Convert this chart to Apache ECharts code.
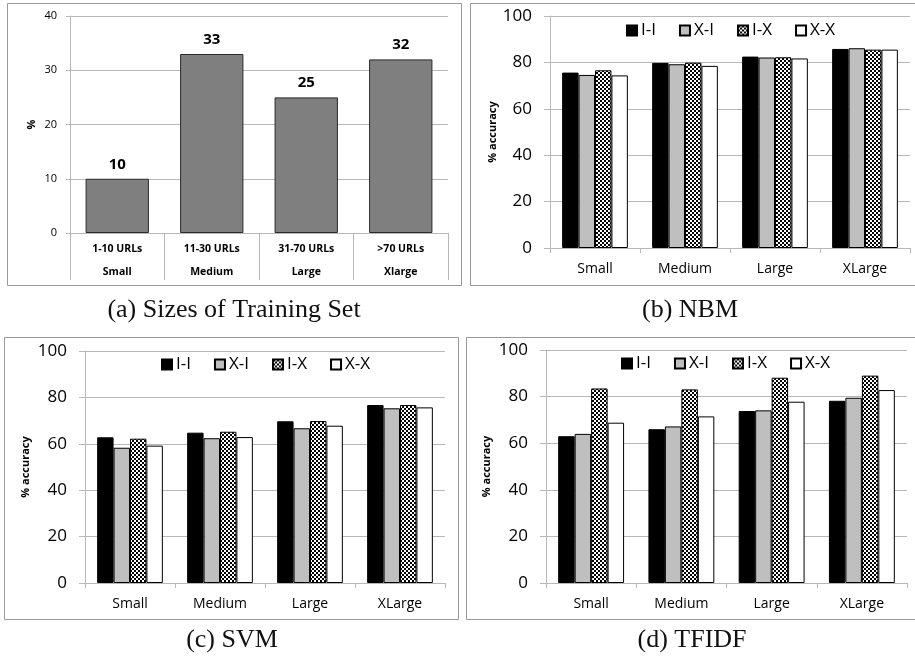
<!DOCTYPE html>
<html>
<head>
<meta charset="utf-8">
<script src="https://cdn.jsdelivr.net/npm/echarts@6/dist/echarts.min.js"></script>
<style>
  html, body { margin: 0; padding: 0; background: #fff; }
  #chart { width: 915px; height: 657px; }
</style>
</head>
<body>
<div id="chart"></div>
<script>
// Training-set size buckets
const sizeRanges = ['1-10 URLs', '11-30 URLs', '31-70 URLs', '>70 URLs'];
const sizeNames = ['Small', 'Medium', 'Large', 'Xlarge'];
const sizeShare = [10, 33, 25, 32];

// Accuracy panels
const groups = ['Small', 'Medium', 'Large', 'XLarge'];
const schemes = ['I-I', 'X-I', 'I-X', 'X-X'];

const nbmII = [75.6, 79.8, 82.5, 85.8];
const nbmXI = [74.6, 79.2, 82.1, 86.1];
const nbmIX = [76.6, 79.9, 82.2, 85.5];
const nbmXX = [74.4, 78.5, 81.7, 85.5];

const svmII = [62.8, 64.8, 69.7, 76.7];
const svmXI = [58.3, 62.4, 66.7, 75.3];
const svmIX = [62.2, 65.2, 69.8, 76.7];
const svmXX = [59.2, 62.9, 67.8, 75.7];

const tfII = [63.0, 66.0, 73.8, 78.2];
const tfXI = [64.0, 67.2, 74.1, 79.5];
const tfIX = [83.5, 83.1, 88.1, 89.0];
const tfXX = [68.8, 71.5, 77.8, 82.8];

const FONT = '"Open Sans", sans-serif';
const GRID_CLR = '#b8b8b8';

// small checkerboard tile for the I-X bars
function checker() {
  const c = document.createElement('canvas');
  c.width = 4; c.height = 4;
  const g = c.getContext('2d');
  g.fillStyle = '#fff'; g.fillRect(0, 0, 4, 4);
  g.fillStyle = '#000'; g.fillRect(0, 0, 2, 2); g.fillRect(2, 2, 2, 2);
  return c;
}
const checkFill = { image: checker(), repeat: 'repeat' };
const schemeFill = ['#000000', '#bfbfbf', checkFill, '#ffffff'];

const chart = echarts.init(document.getElementById('chart'), null, { renderer: 'canvas' });

const grids = [
  { left: 70, top: 16, width: 378, height: 217 },
  { left: 550, top: 16, width: 360, height: 232 },
  { left: 85, top: 351, width: 360, height: 232 },
  { left: 546, top: 350, width: 361, height: 233 }
];

function accYAxis(idx, gap) {
  return {
    type: 'value', gridIndex: idx, min: 0, max: 100, interval: 20,
    name: '% accuracy', nameLocation: 'middle', nameGap: gap,
    nameTextStyle: { fontFamily: FONT, fontSize: 11, fontWeight: 'bold', color: '#000' },
    axisLine: { show: true, lineStyle: { color: GRID_CLR } },
    axisTick: { show: true, length: 6, lineStyle: { color: GRID_CLR } },
    axisLabel: { fontFamily: FONT, fontSize: 17, color: '#000', margin: 18 },
    splitLine: { lineStyle: { color: GRID_CLR } }
  };
}
function accXAxis(idx) {
  return {
    type: 'category', gridIndex: idx, data: groups,
    axisLine: { lineStyle: { color: GRID_CLR } },
    axisTick: { show: true, length: 5, interval: 0, lineStyle: { color: GRID_CLR } },
    axisLabel: { fontFamily: FONT, fontSize: 14, color: '#000', margin: 14 }
  };
}
function accSeries(idx, rows) {
  return rows.map((vals, k) => ({
    type: 'bar', name: schemes[k], xAxisIndex: idx, yAxisIndex: idx,
    data: vals, barGap: '0%', barCategoryGap: '27%',
    itemStyle: { color: schemeFill[k], borderColor: '#000', borderWidth: 1 }
  }));
}
function accLegend(left, top) {
  return {
    left: left, top: top, data: schemes, icon: 'rect',
    itemWidth: 10, itemHeight: 10, itemGap: 23,
    textStyle: { fontFamily: FONT, fontSize: 17, color: '#000', padding: [0, 0, 0, -1] },
    selectedMode: false
  };
}

const frames = [
  [7, 3, 454, 282],
  [470, 3, 450, 282],
  [4, 337, 454, 282],
  [466, 337, 454, 282]
].map(r => ({
  type: 'rect', silent: true,
  shape: { x: r[0] + 0.5, y: r[1] + 0.5, width: r[2], height: r[3] },
  style: { fill: null, stroke: '#9a9a9a', lineWidth: 1 }
}));

const captions = [
  ['(a) Sizes of Training Set', 234, 310],
  ['(b) NBM', 690, 310],
  ['(c) SVM', 232, 640],
  ['(d) TFIDF', 692, 640]
].map(c => ({
  type: 'text', silent: true, x: c[1], y: c[2],
  style: { text: c[0], font: '26px "Liberation Serif", serif', fill: '#111', align: 'center', verticalAlign: 'middle' }
}));

chart.setOption({
  animation: false,
  backgroundColor: '#fff',
  grid: grids,
  legend: [accLegend(621, 17), accLegend(156, 351), accLegend(616, 350)],
  xAxis: [
    {
      type: 'category', gridIndex: 0,
      data: sizeRanges.map((r, i) => r + '\n' + sizeNames[i]),
      axisLine: { lineStyle: { color: GRID_CLR } },
      axisTick: { show: true, length: 47, interval: 0, lineStyle: { color: GRID_CLR } },
      axisLabel: { fontFamily: FONT, fontSize: 10.5, fontWeight: 'bold', color: '#000', lineHeight: 23, margin: 5 }
    },
    accXAxis(1), accXAxis(2), accXAxis(3)
  ],
  yAxis: [
    {
      type: 'value', gridIndex: 0, min: 0, max: 40, interval: 10,
      name: '%', nameLocation: 'middle', nameGap: 33,
      nameTextStyle: { fontFamily: FONT, fontSize: 11, fontWeight: 'bold', color: '#000' },
      axisLine: { show: true, lineStyle: { color: GRID_CLR } },
      axisTick: { show: true, length: 4, lineStyle: { color: GRID_CLR } },
      axisLabel: { fontFamily: FONT, fontSize: 11, color: '#000', margin: 13 },
      splitLine: { lineStyle: { color: GRID_CLR } }
    },
    accYAxis(1, 52), accYAxis(2, 54), accYAxis(3, 54)
  ],
  series: [
    {
      type: 'bar', name: 'share', xAxisIndex: 0, yAxisIndex: 0,
      data: sizeShare, barCategoryGap: '33%',
      itemStyle: { color: '#7f7f7f', borderColor: '#2a2a2a', borderWidth: 1 },
      label: { show: true, position: 'top', distance: 7, fontFamily: FONT, fontSize: 15, fontWeight: 'bold', color: '#000' }
    },
    ...accSeries(1, [nbmII, nbmXI, nbmIX, nbmXX]),
    ...accSeries(2, [svmII, svmXI, svmIX, svmXX]),
    ...accSeries(3, [tfII, tfXI, tfIX, tfXX])
  ],
  graphic: [...frames, ...captions]
});
</script>
</body>
</html>
